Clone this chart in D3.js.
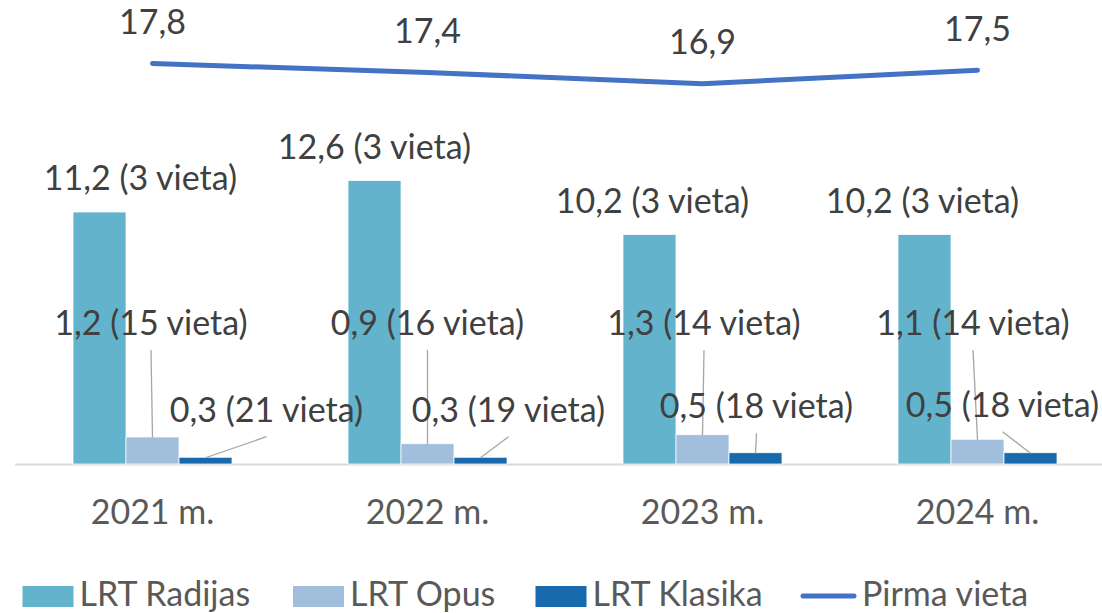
<html lang="lt">
<head>
<meta charset="UTF-8">
<title>LRT auditorija</title>
<style>
  body { margin: 0; background: #fff; }
  svg { display: block; font-family: Lato, "Open Sans", sans-serif; }
  .axis-line { stroke: #d9d9d9; stroke-width: 2px; }
  .leader { stroke: #a6a6a6; stroke-width: 1.3px; fill: none; }
  .lbl { font-size: 34px; fill: #404040; }
  .cat { font-size: 34px; fill: #595959; }
  .legend text { font-size: 34px; fill: #595959; }
  .trend { fill: none; stroke: #4472c4; stroke-width: 5px; stroke-linecap: round; stroke-linejoin: round; }
</style>
</head>
<body>
<svg></svg>
<script src="https://cdnjs.cloudflare.com/ajax/libs/d3/7.8.5/d3.min.js"></script>
<script>

var years = ["2021 m.", "2022 m.", "2023 m.", "2024 m."];
var seriesNames = ["LRT Radijas", "LRT Opus", "LRT Klasika"];
var radijas = [11.2, 12.6, 10.2, 10.2];
var opus = [1.2, 0.9, 1.3, 1.1];
var klasika = [0.3, 0.3, 0.5, 0.5];
var radijasPlace = [3, 3, 3, 3];
var opusPlace = [15, 16, 14, 14];
var klasikaPlace = [21, 19, 18, 18];
var pirma = [17.8, 17.4, 16.9, 17.5];
var lineName = "Pirma vieta";

var colors = ["#64b3cd", "#a1bedd", "#176aad"];
var lineColor = "#4472c4";

// where Excel had dragged the labels (px offsets from the bar centre)
var labelDx = [
  [41, 0, 3, -2],
  [-1.5, 0, 1.5, -4.5],
  [61, 28, 1, -28]
];
var opusLabelY = 335;
var klasikaLabelY = [421.7, 421.7, 418.3, 416.7];

var width = 1102,
    height = 613,
    base = 464;

var svg = d3.select("svg")
  .attr("width", width)
  .attr("height", height);

var pad = 116 / 275;
var x = d3.scaleBand()
  .domain(years)
  .range([15, 1115])
  .paddingInner(pad)
  .paddingOuter(pad / 2);

var x1 = d3.scaleBand()
  .domain(seriesNames)
  .range([0, x.bandwidth()]);

var y = d3.scaleLinear()
  .domain([0, 20])
  .range([base, base - 450]);

var values = [radijas, opus, klasika];
var places = [radijasPlace, opusPlace, klasikaPlace];

function fmt(v) {
  return String(v.toFixed(1)).replace(".", ",");
}

var rows = [];
seriesNames.forEach(function(s, si) {
  years.forEach(function(yr, i) {
    rows.push({ s: s, si: si, yr: yr, i: i, v: values[si][i], place: places[si][i] });
  });
});

// axis line
svg.append("line")
  .attr("class", "axis-line")
  .attr("x1", 15).attr("x2", width)
  .attr("y1", base + 0.5).attr("y2", base + 0.5);

// bars
svg.append("g").selectAll("rect")
  .data(rows)
  .enter()
  .append("rect")
    .attr("x", function(d) { return x(d.yr) + x1(d.s); })
    .attr("width", x1.bandwidth())
    .attr("y", function(d) { return y(d.v); })
    .attr("height", function(d) { return y(0) - y(d.v); })
    .style("fill", function(d) { return colors[d.si]; })
    .style("stroke", "#fff")
    .style("stroke-width", 0.75);

function barCx(d) { return x(d.yr) + x1(d.s) + x1.bandwidth() / 2; }
function labelX(d) { return barCx(d) + labelDx[d.si][d.i]; }
function labelY(d) {
  if (d.si === 0) return y(d.v) - 22;
  if (d.si === 1) return opusLabelY;
  return klasikaLabelY[d.i];
}

// leader lines for the small bars
svg.append("g").selectAll("line")
  .data(rows.filter(function(d) { return d.si > 0; }))
  .enter()
  .append("line")
    .attr("class", "leader")
    .attr("x1", labelX)
    .attr("y1", function(d) { return labelY(d) + 15; })
    .attr("x2", barCx)
    .attr("y2", function(d) { return y(d.v) + 0.5; });

// bar labels
svg.append("g").selectAll("text")
  .data(rows)
  .enter()
  .append("text")
    .attr("class", "lbl")
    .attr("text-anchor", "middle")
    .attr("x", labelX)
    .attr("y", labelY)
    .text(function(d) { return fmt(d.v) + " (" + d.place + " vieta)"; });

// first place line
var line = d3.line()
  .x(function(d, i) { return x(years[i]) + x.bandwidth() / 2; })
  .y(function(d) { return y(d); });

svg.append("path")
  .datum(pirma)
  .attr("class", "trend")
  .attr("d", line);

svg.append("g").selectAll("text")
  .data(pirma)
  .enter()
  .append("text")
    .attr("class", "lbl")
    .attr("text-anchor", "middle")
    .attr("x", function(d, i) { return x(years[i]) + x.bandwidth() / 2; })
    .attr("y", function(d) { return y(d) - 29.5; })
    .text(fmt);

// category labels
svg.append("g").selectAll("text")
  .data(years)
  .enter()
  .append("text")
    .attr("class", "cat")
    .attr("text-anchor", "middle")
    .attr("x", function(d) { return x(d) + x.bandwidth() / 2; })
    .attr("y", 523.5)
    .text(function(d) { return d; });

// legend
var legend = svg.append("g").attr("class", "legend");
var legendX = [22.5, 293, 535.5];

seriesNames.forEach(function(s, i) {
  legend.append("rect")
    .attr("x", legendX[i]).attr("y", 586)
    .attr("width", 51).attr("height", 21)
    .style("fill", colors[i]);
  legend.append("text")
    .attr("x", legendX[i] + 57).attr("y", 606)
    .text(s);
});

legend.append("line")
  .attr("x1", 803).attr("x2", 854)
  .attr("y1", 596).attr("y2", 596)
  .style("stroke", lineColor)
  .style("stroke-width", 5)
  .style("stroke-linecap", "round");
legend.append("text")
  .attr("x", 862).attr("y", 606)
  .text(lineName);

</script>
</body>
</html>
